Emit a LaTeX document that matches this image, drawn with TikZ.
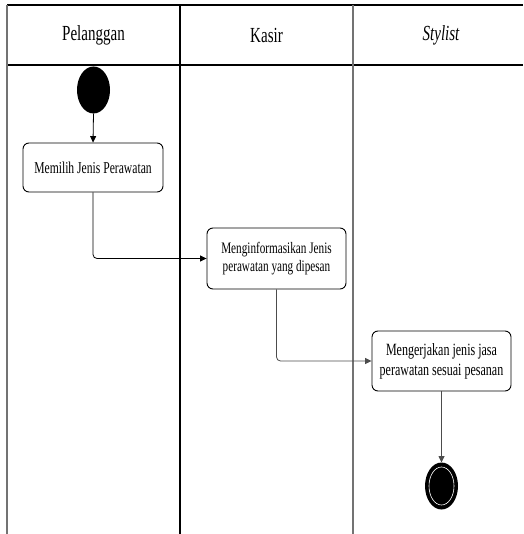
\documentclass[tikz,border=0pt]{standalone}
\usepackage{fontspec}
\setmainfont{Liberation Serif}[FakeStretch=0.7]
\usetikzlibrary{arrows.meta}
\begin{document}
\begin{tikzpicture}[x=1pt,y=-1pt,
  lane/.style={line width=1.1pt},
  lanegray/.style={line width=1.1pt, draw=black!55},
  header/.style={font=\fontsize{21.5}{24}\selectfont},
  action/.style={draw, line width=0.9pt, rounded corners=6pt, align=center, inner sep=0pt},
  flow/.style={line width=0.8pt, rounded corners=4pt, -{Triangle[length=6.5pt,width=6pt]}},
]
\useasboundingbox (0,0) rectangle (523,534);

% swimlane frame
\draw[lane] (7,5) -- (523,5);
\draw[lane] (7,65) -- (523,65);
\draw[lanegray] (7,5) -- (7,534);
\draw[lane] (180,5) -- (180,534);
\draw[lanegray] (353,5) -- (353,534);

% lane titles
\node[header] (hPel) at (93.5,35) {Pelanggan};
\node[header] (hKas) at (266.5,35) {Kasir};
\node[header] (hSty) at (441,35) {\itshape Stylist};

% initial node
\fill (93.5,90) ellipse [x radius=16.5, y radius=23.5];
\coordinate (startB) at (93.5,113.5);

% actions
\node[action, minimum width=140pt, minimum height=49pt,
      font=\fontsize{16.6}{20}\selectfont] (a1) at (93,167.5) {Memilih Jenis Perawatan};
\node[action, minimum width=139pt, minimum height=61pt,
      font=\fontsize{16}{17.7}\selectfont] (a2) at (276.5,258.5) {Menginformasikan Jenis\\perawatan yang dipesan};
\node[action, minimum width=139pt, minimum height=60pt,
      font=\fontsize{17.2}{20}\selectfont] (a3) at (441.5,361) {Mengerjakan jenis jasa\\perawatan sesuai pesanan};

% final node
\fill (441.5,486) ellipse [x radius=16.5, y radius=23.5];
\draw[white, line width=0.6pt] (441.5,486) ellipse [x radius=12.5, y radius=19];
\coordinate (endT) at (441.5,462.5);

% control flow
\draw[flow] (startB) -- (a1.north);
\draw[flow] (a1.south) |- (a2.west);
\draw[flow, draw=black!70] (a2.south) |- (a3.west);
\draw[flow, draw=black!70] (a3.south) -- (endT);
\end{tikzpicture}
\end{document}
